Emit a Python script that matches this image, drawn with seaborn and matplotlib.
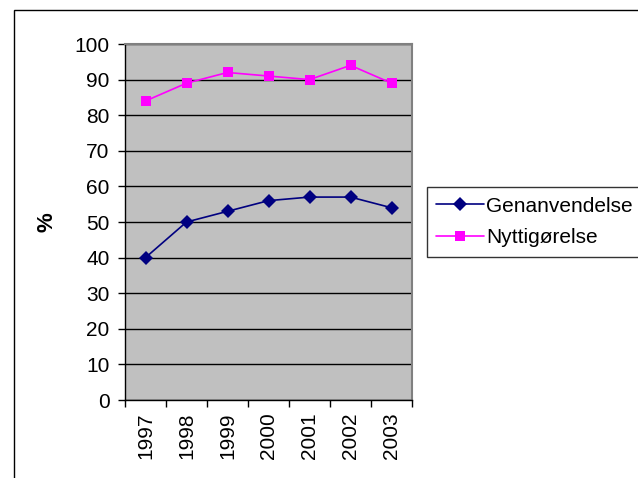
import numpy as np
import pandas as pd
import seaborn as sns
import matplotlib.pyplot as plt
from matplotlib.patches import Rectangle

years = ["1997", "1998", "1999", "2000", "2001", "2002", "2003"]
genanvendelse = [40, 50, 53, 56, 57, 57, 54]
nyttiggoerelse = [84, 89, 92, 91, 90, 94, 89]

df = pd.DataFrame({
    "year": years * 2,
    "pct": genanvendelse + nyttiggoerelse,
    "serie": ["Genanvendelse"] * len(years) + ["Nyttigørelse"] * len(years),
})
df["x"] = df["year"].map({y: i for i, y in enumerate(years)})

sns.set_theme(style="white")
plt.rcParams["font.family"] = ["Liberation Sans", "DejaVu Sans"]
plt.rcParams["text.color"] = "black"
plt.rcParams["xtick.color"] = "black"
plt.rcParams["ytick.color"] = "black"
plt.rcParams["axes.labelcolor"] = "black"

fig = plt.figure(figsize=(6.38, 4.78), dpi=100)
ax = fig.add_axes([125 / 638, 1 - 400 / 478, (412 - 125) / 638, (400 - 44) / 478])
ax.set_facecolor("#C0C0C0")

# outer chart border
fig.patches.append(Rectangle((14 / 638, -0.1), 1.2, 1 - 10 / 478 + 0.1,
                             transform=fig.transFigure, fill=False,
                             edgecolor="black", linewidth=1))

sns.lineplot(data=df, x="x", y="pct", hue="serie", style="serie",
             palette={"Genanvendelse": "#000080", "Nyttigørelse": "#FF00FF"},
             markers={"Genanvendelse": "D", "Nyttigørelse": "s"},
             dashes=False, markersize=7, linewidth=1.2, markeredgewidth=0,
             ax=ax)

ax.set_xlim(-0.5, len(years) - 0.5)
ax.set_ylim(0, 100)
ax.set_yticks(np.arange(0, 101, 10))
ax.yaxis.grid(True, color="black", linewidth=1)
ax.set_axisbelow(True)

ax.set_xticks(range(len(years)))
ax.set_xticklabels(years, rotation=90, fontsize=15)
ax.set_xticks(np.arange(-0.5, len(years), 1), minor=True)
ax.tick_params(axis="x", which="major", length=0, pad=9)
ax.tick_params(axis="x", which="minor", bottom=True, length=5, width=1, color="black", direction="out")
ax.tick_params(axis="y", left=True, length=5, width=1, color="black", direction="out", labelsize=15, pad=6)

for side in ["top", "right"]:
    ax.spines[side].set_color("#808080")
    ax.spines[side].set_linewidth(1.5)
for side in ["left", "bottom"]:
    ax.spines[side].set_color("black")
    ax.spines[side].set_linewidth(1)

ax.set_xlabel("")
ax.set_ylabel("%", fontsize=16, fontweight="bold", labelpad=12)

handles, labels = ax.get_legend_handles_labels()
ax.legend(handles, labels, loc="center left", bbox_to_anchor=(427 / 638, 1 - 222 / 478),
          bbox_transform=fig.transFigure, frameon=True, fancybox=False,
          edgecolor="black", fontsize=15, handlelength=2.3, handletextpad=0.1,
          borderpad=0.45, labelspacing=0.6, borderaxespad=0)

fig.savefig("out.png", dpi=100)
